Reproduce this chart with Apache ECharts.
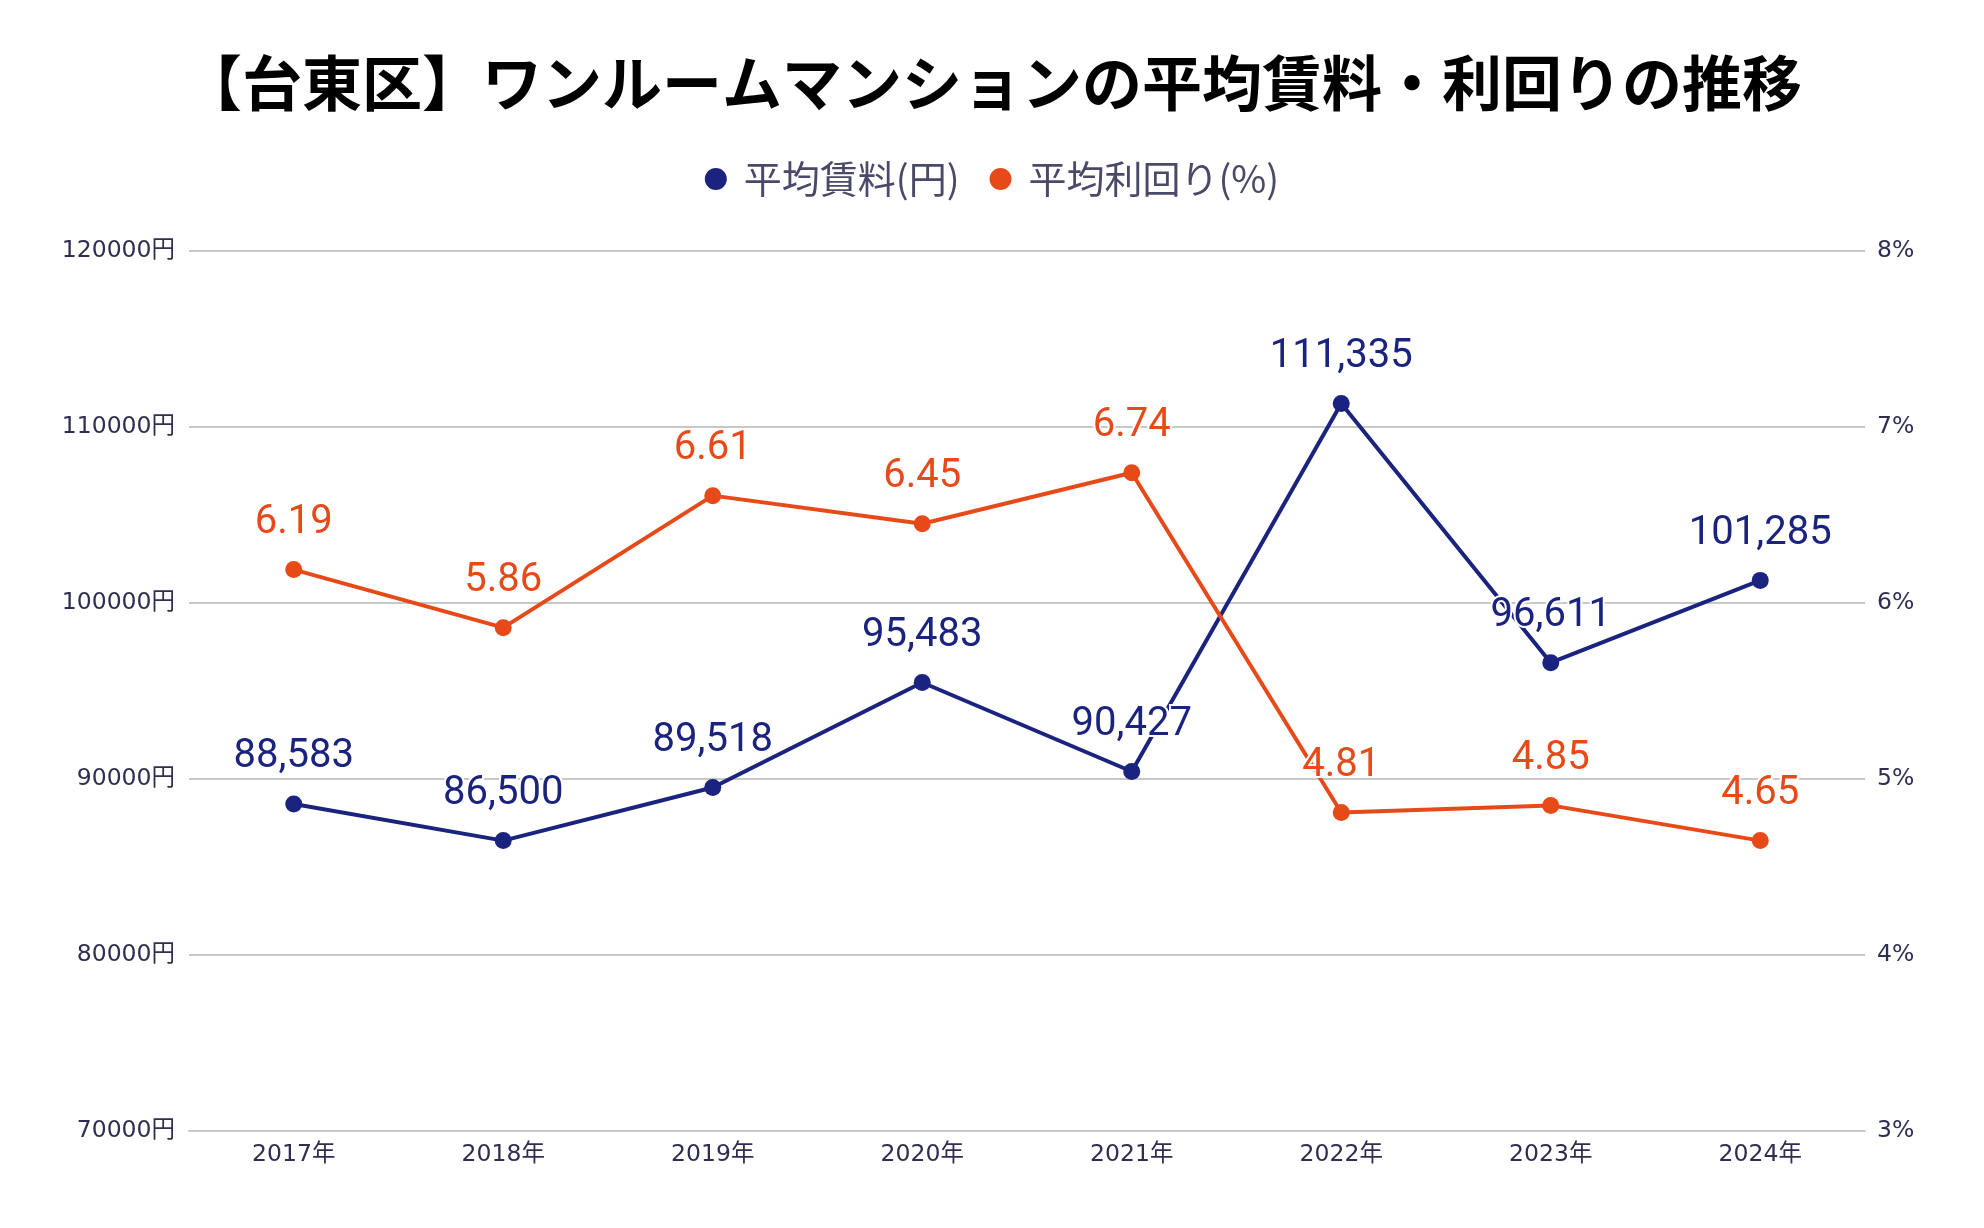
<!DOCTYPE html>
<html><head><meta charset="utf-8">
<script src="https://cdn.jsdelivr.net/npm/echarts@6/dist/echarts.min.js"></script>
<style>html,body{margin:0;padding:0;background:#fff}#c{width:1984px;height:1228px}</style>
</head><body><div id="c"></div>
<script>
const categories = ['2017年','2018年','2019年','2020年','2021年','2022年','2023年','2024年'];
const rentValues = [88583, 86500, 89518, 95483, 90427, 111335, 96611, 101285];
const yieldValues = [6.19, 5.86, 6.61, 6.45, 6.74, 4.81, 4.85, 4.65];
const titleText = '【台東区】ワンルームマンションの平均賃料・利回りの推移';
const rentName = '平均賃料(円)';
const yieldName = '平均利回り(%)';

const navy = '#1a237e', orange = '#e64a19';
const axisLabelStyle = {color: '#2e2e50', fontSize: 23.5, fontFamily: 'DejaVu Sans, Noto Sans CJK JP'};
const chart = echarts.init(document.getElementById('c'));
function labelCfg(color, fmt) {
  return {
    show: true, position: 'top', distance: 18, color: color,
    fontSize: 40, fontFamily: 'Roboto', textBorderColor: '#fff', textBorderWidth: 4,
    formatter: fmt
  };
}
chart.setOption({
  backgroundColor: '#fff',
  animation: false,
  title: {text: titleText, left: 'center', top: 48,
    textStyle: {fontSize: 60, fontWeight: 'bold', color: '#000', fontFamily: 'Noto Sans CJK JP'}},
  legend: {top: 155, left: 'center', itemWidth: 22, itemHeight: 22, itemGap: 30,
    icon: 'circle',
    textStyle: {fontSize: 38, color: '#4a4a68', fontFamily: 'Noto Sans CJK JP', padding: [0, 0, 0, 12]},
    data: [rentName, yieldName]},
  grid: {left: 189, right: 119, top: 251, bottom: 97, containLabel: false},
  xAxis: {type: 'category', data: categories, boundaryGap: true,
    axisLine: {lineStyle: {color: '#c8c8c8', width: 2}}, axisTick: {show: false},
    axisLabel: Object.assign({margin: 12}, axisLabelStyle)},
  yAxis: [
    {type: 'value', min: 70000, max: 120000, interval: 10000,
     axisLabel: Object.assign({margin: 14, formatter: v => v + '円'}, axisLabelStyle),
     splitLine: {lineStyle: {color: '#c8c8c8', width: 2}}, axisLine: {show: false}, axisTick: {show: false}},
    {type: 'value', min: 3, max: 8, interval: 1,
     axisLabel: Object.assign({margin: 12, formatter: v => v + '%'}, axisLabelStyle),
     splitLine: {show: false}, axisLine: {show: false}, axisTick: {show: false}}
  ],
  series: [
    {name: rentName, type: 'line', yAxisIndex: 0, data: rentValues,
     symbol: 'circle', symbolSize: 17, color: navy,
     lineStyle: {width: 4, color: navy}, itemStyle: {color: navy},
     label: labelCfg(navy, p => p.value.toLocaleString('en-US')),
     labelLine: {show: true, lineStyle: {color: '#e0e0e0', width: 1.5}}},
    {name: yieldName, type: 'line', yAxisIndex: 1, data: yieldValues,
     symbol: 'circle', symbolSize: 17, color: orange,
     lineStyle: {width: 4, color: orange}, itemStyle: {color: orange},
     label: labelCfg(orange, p => p.value.toFixed(2)),
     labelLine: {show: true, lineStyle: {color: '#e0e0e0', width: 1.5}}}
  ]
});
</script></body></html>
